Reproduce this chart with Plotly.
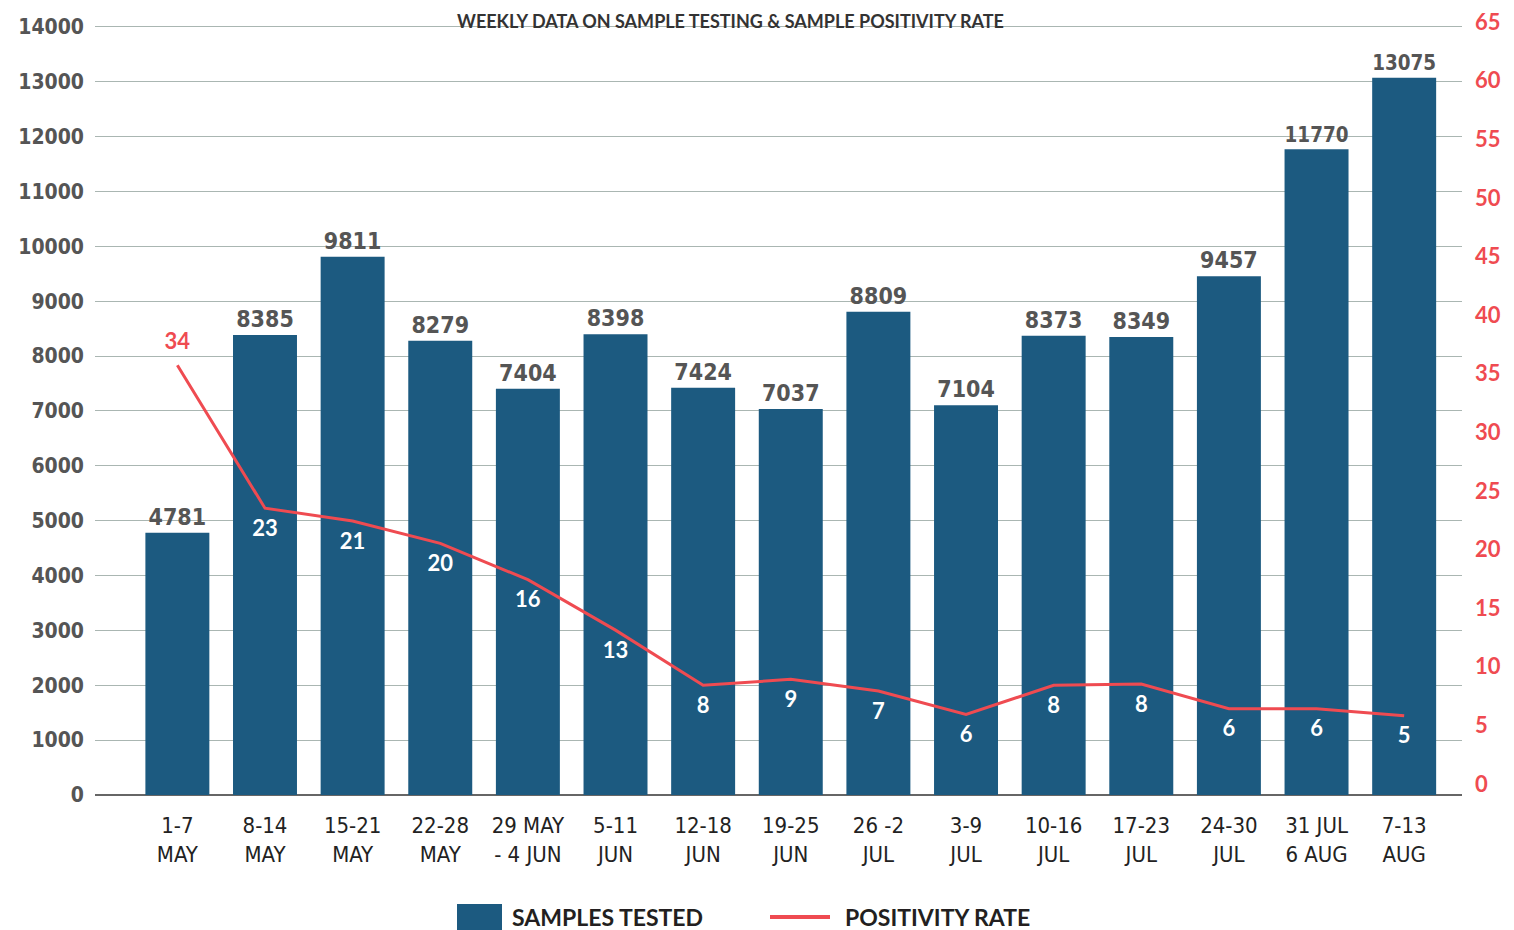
import plotly.graph_objects as go

# weekly categories
weeks = ["1-7<br>MAY", "8-14<br>MAY", "15-21<br>MAY", "22-28<br>MAY", "29 MAY<br>- 4 JUN",
         "5-11<br>JUN", "12-18<br>JUN", "19-25<br>JUN", "26 -2<br>JUL", "3-9<br>JUL",
         "10-16<br>JUL", "17-23<br>JUL", "24-30<br>JUL", "31 JUL<br>6 AUG", "7-13<br>AUG"]

samples_tested = [4781, 8385, 9811, 8279, 7404, 8398, 7424, 7037, 8809, 7104,
                  8373, 8349, 9457, 11770, 13075]

# positivity rate as drawn by the line, and the rounded labels printed on it
positivity_rate = [35.3, 23.1, 22.0, 20.1, 17.0, 12.7, 8.0, 8.5, 7.5, 5.5,
                   8.0, 8.1, 6.0, 6.0, 5.4]
positivity_labels = ["34", "23", "21", "20", "16", "13", "8", "9", "7", "6",
                     "8", "8", "6", "6", "5"]

left_ticks = list(range(0, 14001, 1000))
right_ticks = list(range(0, 66, 5))

BLUE = "#1c5a80"
RED = "#ef4b51"
GREY = "#555555"

# the page body adds an 8px offset, margins below account for it
L, T, R, B = 87, 9, 60, 143
PLOT_W = 1514 - L - R
PLOT_H = 930 - T - B


def px_x(x):
    return (x - 8 - L) / PLOT_W


def px_y(y):
    return (930 - B + 8 - y) / PLOT_H


fig = go.Figure()

fig.add_trace(go.Bar(
    x=weeks, y=samples_tested, name="SAMPLES TESTED",
    marker_color=BLUE, marker_line_width=0,
    text=[str(v) for v in samples_tested], textposition="outside",
    textfont=dict(family="DejaVu Sans Condensed", size=23, color=GREY, weight="bold"),
    cliponaxis=False,
))

fig.add_trace(go.Scatter(
    x=weeks, y=positivity_rate, name="POSITIVITY RATE", yaxis="y2",
    mode="lines+markers+text",
    line=dict(color=RED, width=3),
    marker=dict(size=16, opacity=0),
    text=positivity_labels,
    textposition=["top center"] + ["bottom center"] * (len(weeks) - 1),
    textfont=dict(family="Lato", size=22, color=[RED] + ["white"] * (len(weeks) - 1),
                  weight="bold"),
    cliponaxis=False,
))

fig.update_layout(
    width=1514, height=930,
    margin=dict(l=L, r=R, t=T, b=B),
    paper_bgcolor="white", plot_bgcolor="white",
    showlegend=False,
    bargap=0.27,
    xaxis=dict(
        type="category", range=[-0.94, 14.66], automargin=False,
        tickfont=dict(family="DejaVu Sans Condensed", size=22, color="#222222"),
        showgrid=False, ticks="", ticklabelstandoff=15,
    ),
    yaxis=dict(
        range=[0, 14182], tickvals=left_ticks, tickformat="d", automargin=False,
        tickfont=dict(family="DejaVu Sans Condensed", size=21, color=GREY, weight="bold"),
        showgrid=True, gridcolor="#aab6b2", gridwidth=1,
        zeroline=True, zerolinecolor="#666666", zerolinewidth=2,
        ticks="", ticklabelstandoff=10,
    ),
    yaxis2=dict(
        overlaying="y", side="right", automargin=False,
        range=[-1.365, 65], tickvals=right_ticks, ticklabeloverflow="allow",
        ticklabelshift=5,
        tickfont=dict(family="Lato", size=22, color=RED, weight="bold"),
        showgrid=False, zeroline=False, ticks="", ticklabelstandoff=12,
    ),
)

# title, squeezed against the top edge
fig.add_annotation(
    text="<b>WEEKLY DATA ON SAMPLE TESTING &amp; SAMPLE POSITIVITY RATE</b>",
    xref="paper", yref="paper", x=px_x(730), y=1 + T / PLOT_H, yanchor="top",
    showarrow=False, font=dict(family="Lato", size=18, color="#333333"),
)

# legend drawn by hand to match the wide swatches
fig.add_shape(type="rect", xref="paper", yref="paper",
              x0=px_x(457), x1=px_x(502), y0=px_y(931), y1=px_y(904),
              fillcolor=BLUE, line_width=0)
fig.add_annotation(text="<b>SAMPLES TESTED</b>", xref="paper", yref="paper",
                   x=px_x(510), y=px_y(917), xanchor="left", yanchor="middle",
                   showarrow=False, font=dict(family="Lato", size=23, color="#231f20"))
fig.add_shape(type="line", xref="paper", yref="paper",
              x0=px_x(770), x1=px_x(830), y0=px_y(917), y1=px_y(917),
              line=dict(color=RED, width=4))
fig.add_annotation(text="<b>POSITIVITY RATE</b>", xref="paper", yref="paper",
                   x=px_x(843), y=px_y(917), xanchor="left", yanchor="middle",
                   showarrow=False, font=dict(family="Lato", size=23, color="#231f20"))

fig.write_html("out.html")
